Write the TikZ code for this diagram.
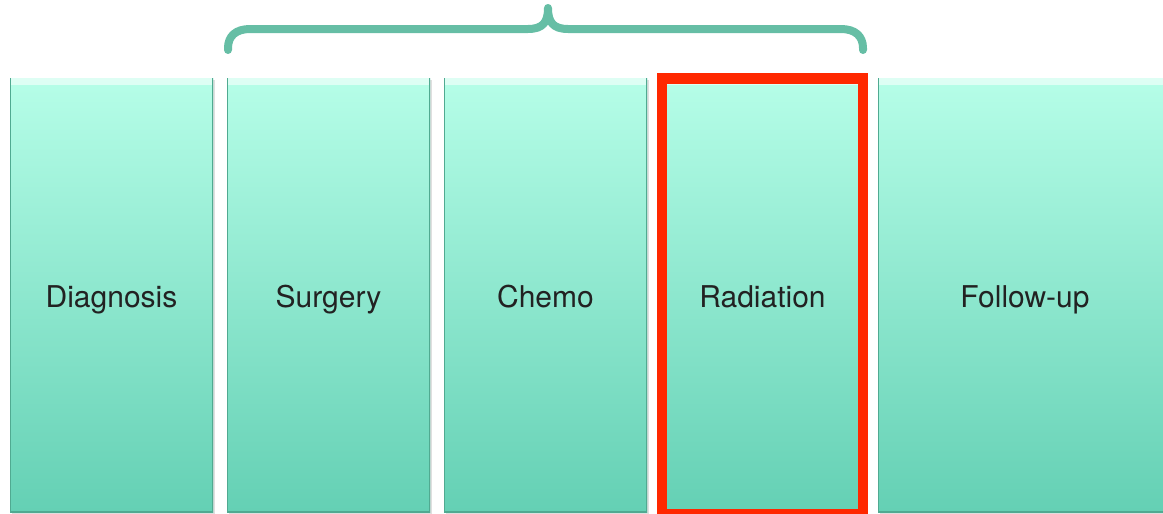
\documentclass[tikz,border=0pt]{standalone}
\usepackage{fontspec}
\setmainfont{TeX Gyre Heros}
\usetikzlibrary{shadows}
\definecolor{tealtop}{RGB}{182,254,232}
\definecolor{tealbot}{RGB}{100,208,180}
\definecolor{tealdark}{RGB}{80,170,145}
\definecolor{bracecol}{RGB}{102,190,165}
\definecolor{redframe}{RGB}{255,40,0}
\definecolor{txt}{RGB}{34,34,34}
\tikzset{
  stagebox/.style={draw=none, top color=tealtop, bottom color=tealbot,
    minimum width=203, minimum height=434, inner sep=0pt,
    font=\fontsize{30}{36}\selectfont, text=txt,
    text height=25.5pt, text depth=0pt,
    drop shadow={opacity=0.25, shadow xshift=1.5pt, shadow yshift=-1.5pt},
    path picture={
      \fill[white, opacity=0.55] (path picture bounding box.north west) rectangle ([yshift=-7pt]path picture bounding box.north east);
      \draw[tealdark, line width=1.6pt] (path picture bounding box.north west) -- (path picture bounding box.south west) -- (path picture bounding box.south east) -- (path picture bounding box.north east);
    }},
  bracestyle/.style={draw=bracecol, line width=8pt, line cap=round, line join=round},
  highlight/.style={draw=redframe, line width=10.5pt}
}
\begin{document}
\begin{tikzpicture}[x=1pt,y=-1pt]
\useasboundingbox (0,0) rectangle (1163,514);
\node[stagebox] (diag) at (111.5,295) {Diagnosis};
\node[stagebox] (surg) at (328.5,295) {Surgery};
\node[stagebox] (chemo) at (545.5,295) {Chemo};
\node[stagebox] (rad) at (762.5,295) {Radiation};
\node[stagebox, minimum width=294] (fup) at (1025,295) {Follow-up};
\draw[highlight] (662,78.5) rectangle (863,514);
\draw[bracestyle, preaction={draw=black, opacity=0.12, transform canvas={xshift=1.5pt,yshift=-3pt}}]
  (228,50) -- (228,48) .. controls (228,36) and (236,29) .. (250,29)
  -- (528,29) .. controls (543,29) and (548,22) .. (548,8)
  .. controls (548,22) and (553,29) .. (568,29)
  -- (841,29) .. controls (855,29) and (863,36) .. (863,48) -- (863,50);
\end{tikzpicture}
\end{document}
